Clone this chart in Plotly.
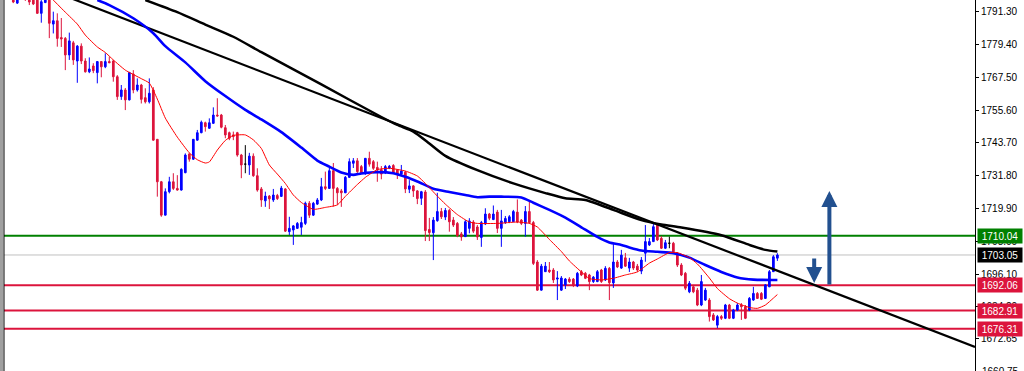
import plotly.graph_objects as go

# ---------------- data ----------------
first_bar = 3
open_ = [1795.5,1794.4,1798.4,1797.3,1796.6,1795.5,1795.5,1790.7,1794.6,1795.5,
         1786.8,1788.0,1781.9,1781.6,1775.6,1780.0,1773.4,1778.8,1773.4,1769.5,
         1771.6,1769.2,1773.2,1771.3,1773.2,1773.4,1767.7,1760.5,1762.9,1759.3,
         1768.7,1762.9,1764.7,1760.1,1758.6,1762.9,1745.0,1729.6,1717.5,1726.0,
         1729.6,1727.2,1726.6,1732.9,1739.7,1737.8,1744.7,1747.4,1751.0,1749.0,
         1750.8,1753.8,1753.8,1749.2,1747.4,1746.6,1747.4,1739.3,1736.0,1735.7,
         1738.9,1731.8,1727.0,1722.7,1724.4,1723.0,1724.6,1724.3,1727.0,1711.5,
         1712.1,1712.7,1713.1,1714.5,1721.8,1717.5,1721.5,1723.0,1727.8,1727.2,
         1733.6,1727.2,1726.3,1725.6,1731.2,1736.3,1737.2,1735.1,1732.7,1738.1,
         1736.9,1734.8,1734.0,1733.0,1734.5,1735.5,1733.9,1732.4,1733.1,1726.9,
         1728.1,1726.3,1723.6,1725.9,1712.3,1711.1,1715.5,1718.8,1716.8,1719.2,
         1715.7,1714.5,1710.7,1709.7,1712.7,1715.0,1713.2,1709.4,1714.3,1717.9,
         1715.9,1718.6,1712.7,1714.8,1715.1,1715.1,1718.6,1715.7,1714.5,1718.8,
         1714.8,1700.5,1690.3,1697.0,1697.6,1697.6,1694.3,1690.3,1692.2,1694.3,
         1694.3,1691.8,1697.0,1696.4,1695.8,1693.4,1693.4,1697.6,1694.0,1698.2,
         1692.9,1700.5,1698.3,1702.0,1698.3,1700.5,1699.0,1697.2,1703.7,1706.7,
         1707.9,1714.5,1709.1,1705.5,1707.3,1707.3,1703.7,1699.4,1696.4,1689.7,
         1691.5,1690.3,1684.9,1686.7,1686.7,1681.3,1677.6,1680.7,1680.1,1684.9,
         1680.1,1683.1,1684.9,1684.3,1683.1,1686.7,1689.1,1689.1,1687.3,1691.5,
         1697.0,1701.9]
high = [1796.6,1797.3,1799.2,1798.4,1797.3,1796.3,1796.3,1795.5,1796.3,1795.9,
        1791.3,1790.7,1789.0,1782.1,1783.7,1780.7,1779.2,1779.8,1774.4,1774.7,
        1772.6,1773.4,1773.4,1776.2,1775.0,1773.8,1768.3,1764.7,1763.6,1769.5,
        1770.1,1767.1,1765.1,1763.5,1767.1,1763.9,1745.1,1729.9,1727.2,1731.4,
        1732.7,1732.0,1734.5,1739.9,1739.9,1745.1,1748.4,1751.8,1751.4,1752.6,
        1756.6,1759.9,1754.2,1750.2,1747.8,1747.8,1747.7,1739.7,1742.9,1740.1,
        1739.9,1734.5,1727.7,1726.0,1724.8,1727.0,1725.2,1728.1,1727.3,1716.9,
        1713.9,1715.0,1716.9,1722.4,1722.6,1722.3,1723.7,1731.0,1733.3,1735.1,
        1736.4,1727.7,1727.0,1731.7,1738.1,1738.2,1738.2,1735.7,1738.2,1740.5,
        1737.5,1736.9,1735.3,1735.7,1735.7,1736.0,1734.2,1735.7,1733.5,1730.2,
        1728.4,1726.6,1726.3,1726.6,1716.5,1716.8,1725.6,1720.1,1720.1,1719.7,
        1716.8,1715.0,1711.4,1715.7,1716.4,1715.7,1713.9,1715.4,1720.0,1718.3,
        1721.0,1719.4,1719.4,1717.2,1717.5,1719.4,1723.2,1716.1,1720.8,1722.4,
        1715.4,1701.2,1699.8,1700.5,1700.5,1698.3,1697.2,1695.4,1694.7,1695.0,
        1694.7,1696.9,1697.6,1696.9,1696.2,1695.4,1697.6,1698.0,1699.0,1698.7,
        1707.4,1701.2,1704.9,1703.8,1702.0,1700.9,1699.8,1702.3,1713.9,1709.2,
        1714.3,1714.6,1709.9,1708.5,1709.7,1707.8,1704.1,1700.1,1696.9,1693.6,
        1692.2,1691.1,1695.8,1691.1,1687.4,1682.0,1681.3,1681.3,1685.3,1685.3,
        1683.5,1685.6,1685.6,1684.9,1687.8,1691.5,1689.6,1689.6,1692.5,1697.6,
        1703.0,1703.7]
low = [1794.4,1794.1,1796.6,1795.2,1793.7,1793.7,1790.5,1787.3,1794.4,1781.7,
       1783.4,1778.6,1778.5,1770.1,1773.8,1772.0,1765.5,1772.3,1769.2,1769.0,
       1769.0,1765.3,1767.5,1770.8,1772.6,1765.9,1759.3,1759.3,1755.6,1759.1,
       1761.7,1762.3,1758.0,1758.0,1758.0,1744.5,1724.2,1716.9,1717.4,1725.4,
       1726.6,1726.4,1726.4,1732.7,1736.9,1737.5,1744.5,1747.2,1747.8,1748.9,
       1750.6,1753.2,1749.0,1745.4,1744.7,1744.7,1738.7,1730.9,1732.7,1732.1,
       1731.4,1726.0,1720.5,1720.5,1719.7,1722.3,1723.0,1724.1,1711.4,1710.3,
       1706.7,1712.5,1710.3,1713.9,1716.5,1717.2,1721.2,1722.6,1726.6,1727.0,
       1720.6,1721.2,1720.5,1725.5,1731.0,1734.6,1732.8,1732.4,1732.1,1735.1,
       1733.9,1729.6,1730.5,1732.4,1734.2,1732.4,1730.6,1732.1,1725.5,1725.5,
       1724.1,1721.5,1721.2,1708.1,1708.1,1701.2,1715.1,1716.1,1715.7,1711.5,
       1713.2,1709.5,1708.2,1709.6,1710.9,1711.0,1708.5,1706.0,1713.9,1715.7,
       1715.7,1711.0,1706.0,1714.3,1714.6,1715.0,1714.6,1713.9,1709.7,1714.3,
       1699.4,1690.0,1690.1,1696.9,1696.5,1692.9,1686.7,1690.0,1690.7,1692.9,
       1691.4,1691.4,1695.4,1694.3,1690.3,1692.9,1693.2,1692.9,1693.6,1686.7,
       1691.1,1698.3,1698.0,1698.7,1696.9,1697.6,1696.9,1696.1,1700.6,1706.3,
       1707.8,1708.1,1705.2,1705.2,1705.5,1703.7,1698.7,1695.4,1690.3,1689.2,
       1689.2,1684.5,1684.5,1686.4,1678.9,1679.1,1676.5,1679.5,1679.8,1679.8,
       1679.8,1682.7,1679.5,1679.8,1682.7,1686.4,1687.1,1686.7,1687.1,1691.4,
       1696.9,1700.9]
close = [1794.8,1796.3,1797.3,1795.9,1794.8,1794.1,1790.7,1794.9,1795.5,1787.1,
         1788.0,1781.6,1781.4,1775.6,1780.7,1773.8,1778.8,1773.4,1769.5,1770.5,
         1769.9,1773.2,1771.3,1773.2,1772.8,1767.7,1760.5,1762.9,1759.3,1769.2,
         1762.9,1764.7,1759.5,1758.6,1761.7,1744.7,1729.6,1717.5,1726.0,1729.6,
         1727.2,1726.6,1734.1,1739.3,1737.8,1745.0,1747.4,1751.2,1749.6,1751.0,
         1753.8,1753.5,1749.4,1746.6,1745.4,1746.0,1739.3,1735.7,1736.0,1738.9,
         1731.8,1726.6,1723.0,1724.4,1723.4,1724.8,1723.5,1727.3,1711.7,1712.7,
         1713.6,1714.5,1714.8,1721.8,1717.5,1721.8,1723.0,1727.8,1727.2,1733.6,
         1727.2,1725.6,1725.6,1731.2,1736.9,1737.2,1733.3,1732.7,1738.1,1736.0,
         1734.5,1733.9,1732.4,1735.1,1735.2,1732.8,1732.4,1733.5,1727.0,1728.1,
         1726.3,1723.5,1726.0,1711.9,1711.2,1715.7,1718.8,1716.9,1719.2,1715.1,
         1713.9,1710.1,1709.6,1715.1,1715.4,1711.7,1709.6,1714.8,1717.9,1716.4,
         1717.9,1712.7,1715.4,1716.3,1716.9,1718.8,1715.0,1714.5,1718.8,1714.8,
         1700.0,1690.3,1699.0,1699.0,1697.0,1694.0,1694.7,1694.7,1694.3,1693.4,
         1692.2,1696.4,1695.8,1694.6,1693.4,1695.0,1697.0,1693.4,1698.2,1693.0,
         1700.5,1698.7,1703.0,1699.0,1700.5,1698.3,1697.6,1701.2,1707.9,1707.9,
         1713.3,1708.5,1705.5,1707.5,1707.3,1704.2,1699.4,1695.8,1691.0,1692.8,
         1689.7,1684.9,1693.4,1690.3,1680.7,1679.5,1680.7,1680.1,1684.9,1680.1,
         1683.1,1684.9,1684.3,1680.1,1687.3,1689.1,1687.3,1687.0,1692.2,1697.0,
         1702.4,1703.05]

# fast moving average (red)
ma_fast_bar = [13,16,19,21,24,26,28,31,35,37,39,41,44,47,49,51,52,54,56,58,61,63,65,67,69,
               71,73,75,78,81,84,86,89,91,94,97,101,104,106,109,111,114,117,119,124,129,
               132,134,137,140,142,145,147,150,153,156,159,162,164,167,169,172,174,177,179,
               182,184,187,189,191,193,194]
ma_fast = [1795.5,1791.1,1786.8,1782.8,1778.5,1776.5,1773.8,1770.1,1767.0,1765.4,1759.6,
           1752.7,1745.8,1740.1,1737.6,1736.4,1736.8,1741.1,1744.6,1746.4,1746.6,1744.8,
           1741.7,1735.7,1732.4,1729.0,1724.8,1722.1,1719.6,1720.3,1721.2,1724.3,1728.6,
           1731.2,1734.0,1734.5,1733.5,1731.7,1729.0,1724.4,1721.5,1717.7,1715.0,1714.5,
           1714.5,1715.0,1714.5,1713.2,1708.7,1704.3,1700.9,1696.9,1694.5,1694.0,1694.6,
           1695.8,1696.9,1700.1,1701.6,1703.9,1703.9,1702.1,1699.8,1694.7,1690.9,1687.2,
           1685.6,1684.0,1683.7,1684.9,1687.4,1688.7]

# medium moving average (blue)
ma_mid_bar = [24,27,33,38,41,46,51,56,61,65,70,75,79,82,85,88,90,94,98,101,104,108,112,
              116,119,122,125,130,133,137,141,145,149,152,155,157,160,164,168,172,176,180,
              184,188,194]
ma_mid = [1795.5,1793.7,1788.9,1783.5,1778.8,1772.9,1766.1,1760.7,1755.7,1752.2,1747.6,
          1742.0,1737.3,1735.1,1733.0,1732.1,1732.6,1733.1,1732.7,1731.4,1729.7,1727.1,
          1725.9,1724.8,1724.0,1724.2,1724.2,1723.9,1722.0,1719.4,1716.6,1713.1,1709.6,
          1707.6,1706.7,1705.8,1704.7,1704.2,1703.7,1702.1,1699.4,1696.9,1694.9,1694.1,
          1694.0]

# slow moving average (black)
ma_slow_bar = [36,44,51,58,65,80,95,99,103,107,111,119,128,136,141,146,153,160,165,170,180,187,191,194]
ma_slow = [1795.5,1791.1,1786.6,1782.2,1776.6,1764.9,1753.1,1750.2,1747.8,1743.5,1739.0,
           1733.8,1729.0,1725.5,1723.6,1723.0,1719.4,1715.7,1714.1,1713.0,1710.2,1706.7,
           1704.9,1704.3]

# trend line anchors (bar, price)
trend_bar = [17.2, 243.4]
trend_price = [1796.3, 1669.7]

# horizontal levels
level_values = [1710.04, 1703.05, 1692.06, 1682.91, 1676.31]
level_labels = ["1710.04", "1703.05", "1692.06", "1682.91", "1676.31"]
level_colors = ["#008000", "#C0C0C0", "#DC143C", "#DC143C", "#DC143C"]
level_tag_bg = ["#008000", "#000000", "#DC143C", "#DC143C", "#DC143C"]

# price axis ticks
tick_values = [1791.30, 1779.40, 1767.50, 1755.60, 1743.70, 1731.80, 1719.90,
               1708.00, 1696.10, 1684.20, 1672.65]
tick_labels = ["1791.30", "1779.40", "1767.50", "1755.60", "1743.70", "1731.80",
               "1719.90", "1708.00", "1696.10", "1684.20", "1672.65"]
cut_label_value = 1660.75
cut_label_text = "1660.75"

# arrows (bar, from price, to price)
arrow_bar = [203.2, 207.0]
arrow_from = [1702.3, 1691.8]
arrow_to = [1692.9, 1726.3]

X_RANGE = [0.675, 243.4]
Y_RANGE = [1660.97, 1795.53]

# ---------------- figure ----------------
bars = list(range(first_bar, first_bar + len(open_)))
BLUE = "#0000FF"
RED = "#DC143C"
FONT = "Liberation Sans, Arial"

def subset(cond):
    idx = [i for i in range(len(bars)) if cond(open_[i], close[i])]
    return ([bars[i] for i in idx], [open_[i] for i in idx], [high[i] for i in idx],
            [low[i] for i in idx], [close[i] for i in idx])

fig = go.Figure()

for cond, col in [(lambda o, c: c > o, BLUE), (lambda o, c: c < o, RED), (lambda o, c: c == o, "#000000")]:
    x, o, h, l, c = subset(cond)
    fig.add_trace(go.Candlestick(
        x=x, open=o, high=h, low=l, close=c,
        increasing=dict(line=dict(color=col, width=1), fillcolor=col),
        decreasing=dict(line=dict(color=col, width=1), fillcolor=col),
        whiskerwidth=0, showlegend=False, hoverinfo="skip"))

fig.add_trace(go.Scatter(x=ma_slow_bar, y=ma_slow, mode="lines",
                         line=dict(color="#000000", width=2.5, shape="spline", smoothing=0.6),
                         showlegend=False, hoverinfo="skip"))
fig.add_trace(go.Scatter(x=trend_bar, y=trend_price, mode="lines",
                         line=dict(color="#000000", width=2.2), showlegend=False, hoverinfo="skip"))
fig.add_trace(go.Scatter(x=ma_mid_bar, y=ma_mid, mode="lines",
                         line=dict(color=BLUE, width=2.6, shape="spline", smoothing=0.6),
                         showlegend=False, hoverinfo="skip"))
fig.add_trace(go.Scatter(x=ma_fast_bar, y=ma_fast, mode="lines",
                         line=dict(color="#FF0000", width=1, shape="spline", smoothing=0.5),
                         showlegend=False, hoverinfo="skip"))

shapes = []
for v, col in zip(level_values, level_colors):
    shapes.append(dict(type="line", xref="paper", yref="y", x0=0, x1=1, y0=v, y1=v,
                       line=dict(color=col, width=1 if col == "#C0C0C0" else 2), layer="below"))
# left border of the chart window
shapes.append(dict(type="rect", xref="paper", yref="paper", x0=-4/971, x1=-0.8/971, y0=0, y1=1,
                   fillcolor="#A0A0A0", line=dict(width=0)))
shapes.append(dict(type="line", xref="paper", yref="paper", x0=0, x1=0, y0=0, y1=1,
                   line=dict(color="#000000", width=1)))

annotations = []
for v, lab, bg in zip(level_values, level_labels, level_tag_bg):
    annotations.append(dict(xref="paper", yref="y", x=1, y=v, xanchor="left", yanchor="middle",
                            xshift=2, text=lab, showarrow=False, bgcolor=bg,
                            font=dict(family=FONT, size=10, color="#FFFFFF"),
                            width=42, height=12, borderpad=1, align="center"))
# price label cut off by the bottom edge of the window
annotations.append(dict(xref="paper", yref="paper", x=1, y=0, xanchor="left", yanchor="middle",
                        xshift=5, yshift=-(Y_RANGE[0] - cut_label_value) * 371 / (Y_RANGE[1] - Y_RANGE[0]),
                        text=cut_label_text, showarrow=False,
                        font=dict(family=FONT, size=10, color="#000000")))
for b, f, t in zip(arrow_bar, arrow_from, arrow_to):
    annotations.append(dict(x=b, y=t, ax=b, ay=f, xref="x", yref="y", axref="x", ayref="y",
                            text="", showarrow=True, arrowhead=2, arrowsize=0.8, arrowwidth=4,
                            arrowcolor="#22508F"))

fig.update_layout(
    width=1024, height=371,
    margin=dict(l=4, r=49, t=0, b=0),
    paper_bgcolor="#FFFFFF", plot_bgcolor="#FFFFFF",
    boxgap=0.4,
    shapes=shapes, annotations=annotations,
    xaxis=dict(range=X_RANGE, visible=False, rangeslider=dict(visible=False), fixedrange=True),
    yaxis=dict(range=Y_RANGE, side="right", showgrid=False, zeroline=False,
               tickvals=tick_values, ticktext=tick_labels, ticks="outside", ticklen=3,
               tickcolor="#000000", showline=True, linecolor="#000000", linewidth=1,
               tickfont=dict(family=FONT, size=10, color="#000000"),
               fixedrange=True),
)

fig.write_html("out.html")
